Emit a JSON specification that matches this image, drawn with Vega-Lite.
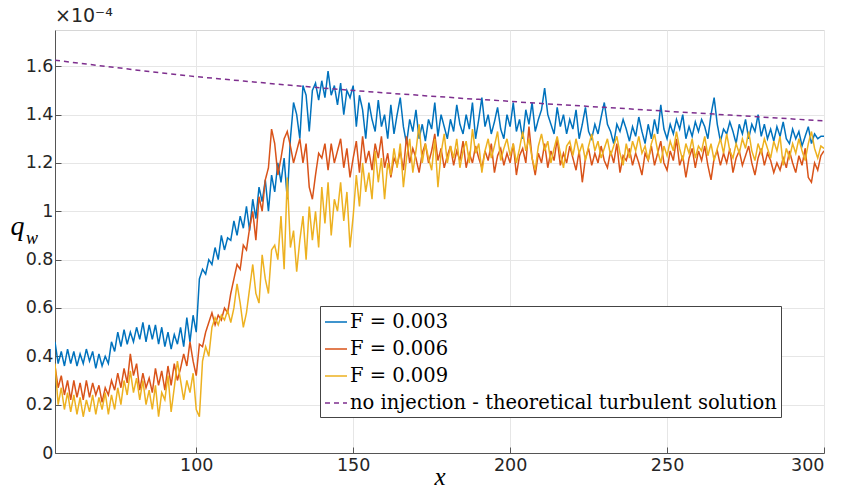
{
 "$schema": "https://vega.github.io/schema/vega-lite/v6.json",
 "width": 769, "height": 423,
 "autosize": {"type": "none"},
 "padding": {"left": 55, "top": 30, "right": 18, "bottom": 38},
 "background": "white",
 "config": {
  "view": {"stroke": "#d6d6d6"},
  "legend": {"labelFont": "DejaVu Serif", "labelFontSize": 19.5, "labelColor": "black", "labelLimit": 700, "labelOffset": 2, "symbolType": "stroke", "symbolSize": 484, "symbolStrokeWidth": 1.5, "strokeColor": "#444", "fillColor": "white", "padding": 4, "rowPadding": 5}
 },
 "title": {"text": "×10⁻⁴", "anchor": "start", "frame": "group", "fontSize": 19, "fontWeight": "normal", "color": "#262626", "offset": 4, "font": "DejaVu Sans"},
 "data": {"values": [
{"x":55,"a":0.46,"b":0.36,"c":0.37,"d":1.625},
{"x":56,"a":0.37,"b":0.27,"c":0.20},
{"x":57,"a":0.42,"b":0.32,"c":0.27},
{"x":58,"a":0.36,"b":0.24,"c":0.18},
{"x":59,"a":0.43,"b":0.30,"c":0.25},
{"x":60,"a":0.37,"b":0.22,"c":0.17,"d":1.617},
{"x":61,"a":0.42,"b":0.30,"c":0.24},
{"x":62,"a":0.36,"b":0.23,"c":0.16},
{"x":63,"a":0.41,"b":0.29,"c":0.23},
{"x":64,"a":0.37,"b":0.22,"c":0.15},
{"x":65,"a":0.43,"b":0.30,"c":0.22,"d":1.609},
{"x":66,"a":0.38,"b":0.23,"c":0.17},
{"x":67,"a":0.42,"b":0.29,"c":0.24},
{"x":68,"a":0.35,"b":0.24,"c":0.16},
{"x":69,"a":0.41,"b":0.28,"c":0.23},
{"x":70,"a":0.36,"b":0.21,"c":0.18,"d":1.601},
{"x":71,"a":0.40,"b":0.27,"c":0.25},
{"x":72,"a":0.37,"b":0.24,"c":0.16},
{"x":73,"a":0.46,"b":0.30,"c":0.24},
{"x":74,"a":0.42,"b":0.26,"c":0.18},
{"x":75,"a":0.50,"b":0.33,"c":0.27,"d":1.594},
{"x":76,"a":0.44,"b":0.27,"c":0.20},
{"x":77,"a":0.51,"b":0.35,"c":0.30},
{"x":78,"a":0.45,"b":0.29,"c":0.24},
{"x":79,"a":0.50,"b":0.41,"c":0.34},
{"x":80,"a":0.46,"b":0.32,"c":0.25,"d":1.586},
{"x":81,"a":0.52,"b":0.37,"c":0.31},
{"x":82,"a":0.47,"b":0.26,"c":0.22},
{"x":83,"a":0.54,"b":0.33,"c":0.30},
{"x":84,"a":0.46,"b":0.27,"c":0.20},
{"x":85,"a":0.53,"b":0.31,"c":0.26,"d":1.578},
{"x":86,"a":0.47,"b":0.25,"c":0.18},
{"x":87,"a":0.53,"b":0.35,"c":0.28},
{"x":88,"a":0.45,"b":0.28,"c":0.15},
{"x":89,"a":0.52,"b":0.34,"c":0.25},
{"x":90,"a":0.44,"b":0.26,"c":0.22,"d":1.571},
{"x":91,"a":0.50,"b":0.36,"c":0.32},
{"x":92,"a":0.43,"b":0.28,"c":0.17},
{"x":93,"a":0.49,"b":0.37,"c":0.27},
{"x":94,"a":0.45,"b":0.30,"c":0.38},
{"x":95,"a":0.52,"b":0.35,"c":0.30,"d":1.564},
{"x":96,"a":0.44,"b":0.41,"c":0.22},
{"x":97,"a":0.56,"b":0.36,"c":0.30},
{"x":98,"a":0.46,"b":0.46,"c":0.25},
{"x":99,"a":0.57,"b":0.38,"c":0.33},
{"x":100,"a":0.50,"b":0.32,"c":0.18,"d":1.557},
{"x":101,"a":0.72,"b":0.45,"c":0.15},
{"x":102,"a":0.76,"b":0.44,"c":0.38},
{"x":103,"a":0.74,"b":0.50,"c":0.44},
{"x":104,"a":0.80,"b":0.54,"c":0.40},
{"x":105,"a":0.78,"b":0.58,"c":0.52,"d":1.551},
{"x":106,"a":0.85,"b":0.53,"c":0.56},
{"x":107,"a":0.80,"b":0.57,"c":0.53},
{"x":108,"a":0.90,"b":0.55,"c":0.57},
{"x":109,"a":0.84,"b":0.60,"c":0.55},
{"x":110,"a":0.89,"b":0.58,"c":0.59,"d":1.545},
{"x":111,"a":0.88,"b":0.66,"c":0.54},
{"x":112,"a":0.96,"b":0.72,"c":0.60},
{"x":113,"a":0.90,"b":0.78,"c":0.70},
{"x":114,"a":0.98,"b":0.76,"c":0.62},
{"x":115,"a":0.93,"b":0.86,"c":0.52,"d":1.539},
{"x":116,"a":1.02,"b":0.84,"c":0.58},
{"x":117,"a":0.92,"b":0.93,"c":0.68},
{"x":118,"a":1.05,"b":1.00,"c":0.78},
{"x":119,"a":0.97,"b":0.88,"c":0.66},
{"x":120,"a":1.10,"b":1.06,"c":0.62,"d":1.533},
{"x":121,"a":1.04,"b":1.00,"c":0.82},
{"x":122,"a":1.13,"b":1.13,"c":0.72},
{"x":123,"a":1.00,"b":1.18,"c":0.66},
{"x":124,"a":1.15,"b":1.34,"c":0.84},
{"x":125,"a":1.08,"b":1.28,"c":0.86,"d":1.527},
{"x":126,"a":1.20,"b":1.15,"c":0.80},
{"x":127,"a":1.12,"b":1.22,"c":0.98},
{"x":128,"a":1.22,"b":1.30,"c":0.76},
{"x":129,"a":1.05,"b":1.33,"c":1.14},
{"x":130,"a":1.30,"b":1.27,"c":0.85,"d":1.521},
{"x":131,"a":1.45,"b":1.20,"c":0.92},
{"x":132,"a":1.40,"b":1.25,"c":0.75},
{"x":133,"a":1.30,"b":1.30,"c":0.88},
{"x":134,"a":1.52,"b":1.20,"c":0.98},
{"x":135,"a":1.48,"b":1.28,"c":0.80,"d":1.516},
{"x":136,"a":1.33,"b":1.10,"c":1.02},
{"x":137,"a":1.50,"b":1.05,"c":0.88},
{"x":138,"a":1.53,"b":1.15,"c":1.00},
{"x":139,"a":1.46,"b":1.24,"c":0.85},
{"x":140,"a":1.54,"b":1.22,"c":1.10,"d":1.510},
{"x":141,"a":1.47,"b":1.28,"c":0.95},
{"x":142,"a":1.58,"b":1.17,"c":1.12},
{"x":143,"a":1.48,"b":1.28,"c":0.90},
{"x":144,"a":1.52,"b":1.20,"c":1.05},
{"x":145,"a":1.44,"b":1.25,"c":1.00,"d":1.505},
{"x":146,"a":1.53,"b":1.30,"c":1.12},
{"x":147,"a":1.40,"b":1.18,"c":0.96},
{"x":148,"a":1.50,"b":1.26,"c":1.08},
{"x":149,"a":1.47,"b":1.14,"c":0.85},
{"x":150,"a":1.52,"b":1.22,"c":0.98,"d":1.500},
{"x":151,"a":1.35,"b":1.29,"c":1.15},
{"x":152,"a":1.48,"b":1.16,"c":1.02},
{"x":153,"a":1.42,"b":1.31,"c":1.20},
{"x":154,"a":1.30,"b":1.20,"c":1.08},
{"x":155,"a":1.45,"b":1.25,"c":1.16,"d":1.495},
{"x":156,"a":1.38,"b":1.17,"c":1.05},
{"x":157,"a":1.33,"b":1.28,"c":1.25},
{"x":158,"a":1.46,"b":1.22,"c":1.12},
{"x":159,"a":1.35,"b":1.31,"c":1.22},
{"x":160,"a":1.40,"b":1.18,"c":1.05,"d":1.490},
{"x":161,"a":1.30,"b":1.24,"c":1.20},
{"x":162,"a":1.44,"b":1.14,"c":1.15},
{"x":163,"a":1.32,"b":1.22,"c":1.26},
{"x":164,"a":1.40,"b":1.19,"c":1.18},
{"x":165,"a":1.47,"b":1.25,"c":1.28,"d":1.485},
{"x":166,"a":1.35,"b":1.17,"c":1.10},
{"x":167,"a":1.28,"b":1.31,"c":1.22},
{"x":168,"a":1.38,"b":1.20,"c":1.30},
{"x":169,"a":1.33,"b":1.26,"c":1.16},
{"x":170,"a":1.42,"b":1.22,"c":1.25,"d":1.481},
{"x":171,"a":1.30,"b":1.16,"c":1.36},
{"x":172,"a":1.36,"b":1.24,"c":1.20},
{"x":173,"a":1.29,"b":1.28,"c":1.28},
{"x":174,"a":1.38,"b":1.20,"c":1.22},
{"x":175,"a":1.34,"b":1.25,"c":1.17,"d":1.476},
{"x":176,"a":1.45,"b":1.32,"c":1.30},
{"x":177,"a":1.31,"b":1.21,"c":1.10},
{"x":178,"a":1.40,"b":1.26,"c":1.24},
{"x":179,"a":1.35,"b":1.18,"c":1.32},
{"x":180,"a":1.30,"b":1.23,"c":1.20,"d":1.472},
{"x":181,"a":1.38,"b":1.27,"c":1.27},
{"x":182,"a":1.33,"b":1.19,"c":1.22},
{"x":183,"a":1.44,"b":1.25,"c":1.30},
{"x":184,"a":1.36,"b":1.21,"c":1.18},
{"x":185,"a":1.32,"b":1.29,"c":1.25,"d":1.467},
{"x":186,"a":1.40,"b":1.18,"c":1.29},
{"x":187,"a":1.34,"b":1.24,"c":1.20},
{"x":188,"a":1.45,"b":1.20,"c":1.34},
{"x":189,"a":1.30,"b":1.27,"c":1.24},
{"x":190,"a":1.38,"b":1.22,"c":1.28,"d":1.463},
{"x":191,"a":1.47,"b":1.18,"c":1.16},
{"x":192,"a":1.35,"b":1.25,"c":1.25},
{"x":193,"a":1.40,"b":1.21,"c":1.30},
{"x":194,"a":1.32,"b":1.28,"c":1.22},
{"x":195,"a":1.37,"b":1.16,"c":1.27,"d":1.459},
{"x":196,"a":1.43,"b":1.23,"c":1.33},
{"x":197,"a":1.34,"b":1.26,"c":1.21},
{"x":198,"a":1.30,"b":1.19,"c":1.26},
{"x":199,"a":1.40,"b":1.24,"c":1.30},
{"x":200,"a":1.35,"b":1.20,"c":1.23,"d":1.455},
{"x":201,"a":1.45,"b":1.28,"c":1.28},
{"x":202,"a":1.33,"b":1.15,"c":1.20},
{"x":203,"a":1.38,"b":1.23,"c":1.26},
{"x":204,"a":1.30,"b":1.26,"c":1.33},
{"x":205,"a":1.42,"b":1.20,"c":1.25,"d":1.450},
{"x":206,"a":1.36,"b":1.35,"c":1.30},
{"x":207,"a":1.45,"b":1.22,"c":1.22},
{"x":208,"a":1.33,"b":1.15,"c":1.17},
{"x":209,"a":1.38,"b":1.24,"c":1.27},
{"x":210,"a":1.42,"b":1.20,"c":1.32,"d":1.446},
{"x":211,"a":1.51,"b":1.28,"c":1.25},
{"x":212,"a":1.40,"b":1.18,"c":1.29},
{"x":213,"a":1.36,"b":1.25,"c":1.20},
{"x":214,"a":1.32,"b":1.21,"c":1.26},
{"x":215,"a":1.43,"b":1.30,"c":1.31,"d":1.442},
{"x":216,"a":1.35,"b":1.19,"c":1.24},
{"x":217,"a":1.40,"b":1.24,"c":1.18},
{"x":218,"a":1.32,"b":1.20,"c":1.27},
{"x":219,"a":1.38,"b":1.27,"c":1.29},
{"x":220,"a":1.34,"b":1.22,"c":1.23,"d":1.438},
{"x":221,"a":1.42,"b":1.17,"c":1.30},
{"x":222,"a":1.30,"b":1.25,"c":1.24},
{"x":223,"a":1.36,"b":1.12,"c":1.28},
{"x":224,"a":1.43,"b":1.22,"c":1.21},
{"x":225,"a":1.33,"b":1.26,"c":1.27,"d":1.434},
{"x":226,"a":1.30,"b":1.19,"c":1.32},
{"x":227,"a":1.36,"b":1.24,"c":1.25},
{"x":228,"a":1.32,"b":1.20,"c":1.29},
{"x":229,"a":1.39,"b":1.27,"c":1.22},
{"x":230,"a":1.45,"b":1.21,"c":1.26,"d":1.430},
{"x":231,"a":1.36,"b":1.18,"c":1.30},
{"x":232,"a":1.33,"b":1.25,"c":1.23},
{"x":233,"a":1.28,"b":1.20,"c":1.27},
{"x":234,"a":1.36,"b":1.28,"c":1.31},
{"x":235,"a":1.33,"b":1.16,"c":1.24,"d":1.426},
{"x":236,"a":1.38,"b":1.23,"c":1.19},
{"x":237,"a":1.34,"b":1.21,"c":1.28},
{"x":238,"a":1.29,"b":1.26,"c":1.22},
{"x":239,"a":1.35,"b":1.19,"c":1.29},
{"x":240,"a":1.31,"b":1.24,"c":1.25,"d":1.422},
{"x":241,"a":1.39,"b":1.20,"c":1.31},
{"x":242,"a":1.33,"b":1.15,"c":1.24},
{"x":243,"a":1.28,"b":1.24,"c":1.27},
{"x":244,"a":1.36,"b":1.21,"c":1.21},
{"x":245,"a":1.30,"b":1.27,"c":1.28,"d":1.418},
{"x":246,"a":1.38,"b":1.19,"c":1.32},
{"x":247,"a":1.32,"b":1.24,"c":1.25},
{"x":248,"a":1.44,"b":1.29,"c":1.20},
{"x":249,"a":1.34,"b":1.20,"c":1.27},
{"x":250,"a":1.30,"b":1.17,"c":1.23,"d":1.414},
{"x":251,"a":1.36,"b":1.25,"c":1.29},
{"x":252,"a":1.32,"b":1.21,"c":1.25},
{"x":253,"a":1.38,"b":1.30,"c":1.33},
{"x":254,"a":1.34,"b":1.19,"c":1.26},
{"x":255,"a":1.40,"b":1.23,"c":1.21,"d":1.410},
{"x":256,"a":1.30,"b":1.14,"c":1.28},
{"x":257,"a":1.35,"b":1.22,"c":1.24},
{"x":258,"a":1.31,"b":1.26,"c":1.30},
{"x":259,"a":1.37,"b":1.18,"c":1.22},
{"x":260,"a":1.33,"b":1.25,"c":1.27,"d":1.406},
{"x":261,"a":1.38,"b":1.21,"c":1.25},
{"x":262,"a":1.35,"b":1.27,"c":1.31},
{"x":263,"a":1.30,"b":1.19,"c":1.23},
{"x":264,"a":1.40,"b":1.13,"c":1.28},
{"x":265,"a":1.47,"b":1.22,"c":1.21,"d":1.402},
{"x":266,"a":1.36,"b":1.25,"c":1.26},
{"x":267,"a":1.29,"b":1.19,"c":1.30},
{"x":268,"a":1.34,"b":1.24,"c":1.24},
{"x":269,"a":1.32,"b":1.20,"c":1.32},
{"x":270,"a":1.37,"b":1.26,"c":1.25,"d":1.398},
{"x":271,"a":1.33,"b":1.16,"c":1.22},
{"x":272,"a":1.28,"b":1.22,"c":1.28},
{"x":273,"a":1.36,"b":1.25,"c":1.24},
{"x":274,"a":1.32,"b":1.19,"c":1.30},
{"x":275,"a":1.38,"b":1.23,"c":1.26,"d":1.394},
{"x":276,"a":1.30,"b":1.27,"c":1.33},
{"x":277,"a":1.36,"b":1.20,"c":1.25},
{"x":278,"a":1.33,"b":1.15,"c":1.21},
{"x":279,"a":1.40,"b":1.22,"c":1.28},
{"x":280,"a":1.31,"b":1.26,"c":1.24,"d":1.390},
{"x":281,"a":1.36,"b":1.19,"c":1.30},
{"x":282,"a":1.30,"b":1.24,"c":1.26},
{"x":283,"a":1.34,"b":1.21,"c":1.22},
{"x":284,"a":1.29,"b":1.16,"c":1.29},
{"x":285,"a":1.35,"b":1.20,"c":1.25,"d":1.386},
{"x":286,"a":1.31,"b":1.17,"c":1.31},
{"x":287,"a":1.37,"b":1.22,"c":1.19},
{"x":288,"a":1.30,"b":1.18,"c":1.26},
{"x":289,"a":1.28,"b":1.25,"c":1.22},
{"x":290,"a":1.34,"b":1.20,"c":1.28,"d":1.382},
{"x":291,"a":1.30,"b":1.16,"c":1.24},
{"x":292,"a":1.33,"b":1.23,"c":1.30},
{"x":293,"a":1.27,"b":1.19,"c":1.25},
{"x":294,"a":1.31,"b":1.26,"c":1.21},
{"x":295,"a":1.35,"b":1.14,"c":1.28,"d":1.378},
{"x":296,"a":1.28,"b":1.12,"c":1.33},
{"x":297,"a":1.32,"b":1.20,"c":1.26},
{"x":298,"a":1.30,"b":1.17,"c":1.22},
{"x":299,"a":1.31,"b":1.23,"c":1.27},
{"x":300,"a":1.31,"b":1.25,"c":1.26,"d":1.374}
 ]},
 "layer": [
  {
   "transform": [{"fold": ["a", "b", "c", "d"], "as": ["series", "q"]}, {"filter": "isValid(datum.q)"}],
   "mark": {"type": "line", "strokeWidth": 1.5, "clip": true},
   "encoding": {
    "x": {"field": "x", "type": "quantitative",
     "scale": {"domain": [55, 300], "nice": false, "zero": false},
     "axis": {"values": [100, 150, 200, 250, 300], "title": "x", "titleFont": "Liberation Serif", "titleFontStyle": "italic", "titleFontSize": 25, "titleFontWeight": "normal", "titleColor": "black", "titlePadding": -9,
      "labelFont": "DejaVu Sans", "labelFontSize": 17.5, "labelColor": "#262626", "labelPadding": 9, "tickSize": -6, "tickColor": "#555", "domainColor": "#555", "gridColor": "#e6e6e6"}},
    "y": {"field": "q", "type": "quantitative",
     "scale": {"domain": [0, 1.75], "nice": false},
     "axis": {"values": [0, 0.2, 0.4, 0.6, 0.8, 1, 1.2, 1.4, 1.6], "format": "~g", "title": "q", "titleAngle": 0, "titleX": -38, "titleY": 196, "titleAlign": "center", "titleBaseline": "middle", "titleFont": "Liberation Serif", "titleFontStyle": "italic", "titleFontSize": 28, "titleFontWeight": "normal", "titleColor": "black",
      "labelFont": "DejaVu Sans", "labelFontSize": 17.5, "labelColor": "#262626", "labelPadding": 8, "tickSize": -6, "tickColor": "#555", "domainColor": "#555", "gridColor": "#e6e6e6"}},
    "color": {"field": "series", "type": "nominal",
     "scale": {"domain": ["a", "b", "c", "d"], "range": ["#0072BD", "#D95319", "#EDB120", "#7E2F8E"]},
     "legend": {"title": null, "orient": "none", "legendX": 265, "legendY": 276, "labelFont": "DejaVu Serif", "labelExpr": "datum.label == 'a' ? 'F = 0.003' : datum.label == 'b' ? 'F = 0.006' : datum.label == 'c' ? 'F = 0.009' : 'no injection - theoretical turbulent solution'"}},
    "strokeDash": {"field": "series", "type": "nominal",
     "scale": {"domain": ["a", "b", "c", "d"], "range": [[1, 0], [1, 0], [1, 0], [5, 4]]},
     "legend": {"title": null, "orient": "none", "legendX": 265, "legendY": 276, "labelFont": "DejaVu Serif", "labelExpr": "datum.label == 'a' ? 'F = 0.003' : datum.label == 'b' ? 'F = 0.006' : datum.label == 'c' ? 'F = 0.009' : 'no injection - theoretical turbulent solution'"}}
   }
  },
  {
   "data": {"values": [{"sub": "w"}]},
   "mark": {"type": "text", "font": "Liberation Serif", "fontStyle": "italic", "fontSize": 18, "color": "black", "dx": -23, "dy": 8},
   "encoding": {"text": {"field": "sub"}, "x": {"datum": 55}, "y": {"datum": 0.92}}
  }
 ]
}
